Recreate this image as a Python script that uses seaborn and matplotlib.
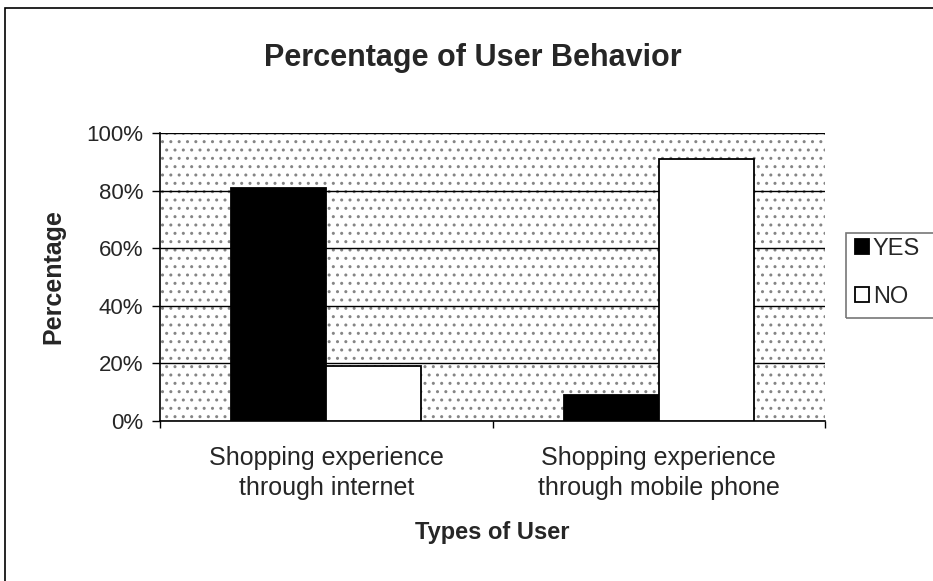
import numpy as np
import pandas as pd
import matplotlib
matplotlib.use("Agg")
import matplotlib.pyplot as plt
import seaborn as sns
from matplotlib.patches import Rectangle
from matplotlib.ticker import PercentFormatter

# ------------------------------------------------------------
# Data
# ------------------------------------------------------------
categories = ["Shopping experience\nthrough internet",
              "Shopping experience\nthrough mobile phone"]
yes_pct = [81, 9]
no_pct = [19, 91]
answers = ["YES", "NO"]

df = pd.DataFrame({
    "category": categories * 2,
    "answer": ["YES"] * len(categories) + ["NO"] * len(categories),
    "pct": yes_pct + no_pct,
})

# ------------------------------------------------------------
# Style
# ------------------------------------------------------------
sns.set_theme(style="white")
plt.rcParams["font.family"] = ["Liberation Sans", "DejaVu Sans"]
plt.rcParams["hatch.linewidth"] = 1.0

W, H = 933, 581
fig = plt.figure(figsize=(W / 100, H / 100), dpi=100)
ax = fig.add_axes([160 / W, 1 - 421 / H, 665 / W, 288 / H])

# dotted plot-area background
bg = Rectangle((0, 0), 1, 1, transform=ax.transAxes, facecolor="white",
               edgecolor="#858585", hatch="..", lw=0, zorder=0)
ax.add_patch(bg)

sns.barplot(data=df, x="category", y="pct", hue="answer", hue_order=answers,
            palette={"YES": "black", "NO": "white"}, width=0.57,
            edgecolor="black", linewidth=1.3, saturation=1, ax=ax, zorder=3)

ax.set_ylim(0, 100)
ax.set_yticks(np.arange(0, 101, 20))
ax.yaxis.set_major_formatter(PercentFormatter(decimals=0))
ax.yaxis.grid(True, color="black", lw=1.0)
ax.set_axisbelow(True)
for ln in ax.get_ygridlines():
    ln.set_zorder(1)

ax.set_xlim(-0.5, len(categories) - 0.5)
ax.set_xticks(np.arange(-0.5, len(categories), 1.0), minor=True)
ax.tick_params(axis="x", which="major", length=0, pad=18, labelsize=18)
ax.tick_params(axis="x", which="minor", length=5, width=1, color="black",
               direction="out", bottom=True)
ax.tick_params(axis="y", length=6, width=1, color="black", direction="out",
               left=True, labelsize=16, pad=6)
for lbl in ax.get_xticklabels():
    lbl.set_linespacing(1.3)

for side in ["top", "right"]:
    ax.spines[side].set_visible(False)
for side in ["left", "bottom"]:
    ax.spines[side].set_color("black")
    ax.spines[side].set_linewidth(1.2)

ax.set_xlabel("Types of User", fontsize=17, fontweight="bold", labelpad=15)
ax.set_ylabel("Percentage", fontsize=18, fontweight="bold", labelpad=15)

# legend outside on the right, with its own frame running off the edge
handles, labels = ax.get_legend_handles_labels()
ax.get_legend().remove()
fig.legend(handles, labels, loc="upper left",
           bbox_to_anchor=(855 / W, 1 - 238 / H), fontsize=17,
           frameon=False, handlelength=0.6, handleheight=0.6,
           handletextpad=0.15, borderpad=0, labelspacing=1.1,
           borderaxespad=0)
fig.patches.append(Rectangle((846 / W, 1 - 318 / H), 100 / W, 85 / H,
                             transform=fig.transFigure, fill=False,
                             edgecolor="#777777", lw=1.2))

fig.text(473 / W, 1 - 58 / H,
         "Percentage of User Behavior", ha="center", va="center",
         fontsize=22, fontweight="bold")

# outer chart frame
fig.patches.append(Rectangle((5 / W, -0.01), 1.0, 1 - 8 / H + 0.01,
                             transform=fig.transFigure, fill=False,
                             edgecolor="black", lw=1.2))

fig.savefig("out.png", dpi=100)
